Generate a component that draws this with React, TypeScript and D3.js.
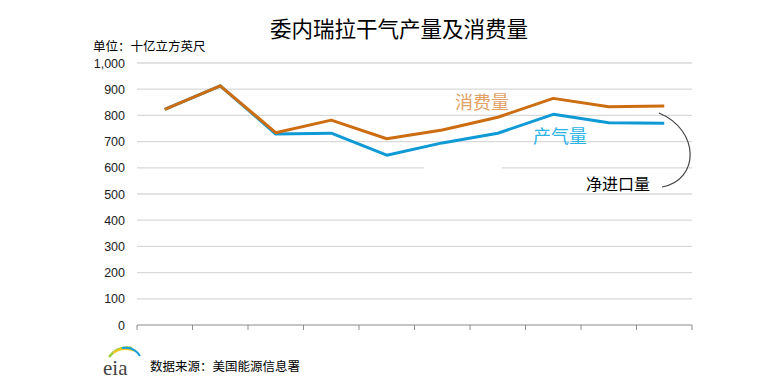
import React from "react";
import * as d3 from "d3";

const categories = ["1", "2", "3", "4", "5", "6", "7", "8", "9", "10"];
const consumption = [823, 913, 734, 782, 711, 744, 793, 865, 833, 836];
const production = [823, 913, 729, 732, 648, 695, 732, 804, 772, 770];
const yTicks = [0, 100, 200, 300, 400, 500, 600, 700, 800, 900, 1000];

const W = 775;
const H = 387;
const M = { left: 137, right: 692, top: 63, bottom: 325 };
const FONT = "'Liberation Sans', Arial, 'Noto Sans CJK SC', sans-serif";
const ORANGE = "#cc6d12";
const BLUE = "#0f9ad6";

export default function App() {
  const x = d3.scaleBand<string>().domain(categories).range([M.left, M.right]);
  const y = d3.scaleLinear().domain([0, 1000]).range([M.bottom, M.top]);
  const cx = (c: string) => (x(c) as number) + x.bandwidth() / 2;
  const line = d3
    .line<number>()
    .x((_, i) => cx(categories[i]))
    .y((d) => y(d));
  const fmt = d3.format(",");
  const tickXs = [...categories.map((c) => x(c) as number), M.right];

  return (
    <div style={{ position: "fixed", left: 0, top: 0 }}>
      <svg width={W} height={H} style={{ display: "block", background: "#fff" }} fontFamily={FONT}>
        <text x={399} y={37} textAnchor="middle" fontSize={21.5} fill="#000">
          委内瑞拉干气产量及消费量
        </text>
        <text x={93} y={51} fontSize={12.5} fill="#000">
          单位：十亿立方英尺
        </text>
        {yTicks.map((t) => (
          <g key={t}>
            {t > 0 && (
              <line x1={M.left} x2={M.right} y1={y(t)} y2={y(t)} stroke="#d9d9d9" strokeWidth={1.3} />
            )}
            <text x={125} y={y(t) + 4.5} textAnchor="end" fontSize={12.5} fill="#222">
              {fmt(t)}
            </text>
          </g>
        ))}
        <rect x={424} y={164} width={78} height={8} fill="#fff" />
        <line x1={M.left} x2={M.right} y1={y(0)} y2={y(0)} stroke="#8c8c8c" strokeWidth={1.2} />
        {tickXs.map((tx, i) => (
          <line key={i} x1={tx} x2={tx} y1={y(0)} y2={y(0) + 5} stroke="#8c8c8c" strokeWidth={1} />
        ))}
        <path d={line(production) || ""} fill="none" stroke={BLUE} strokeWidth={3} strokeLinejoin="round" />
        <path d={line(consumption) || ""} fill="none" stroke={ORANGE} strokeWidth={3} strokeLinejoin="round" />
        <text x={455} y={109} fontSize={18} fill="#e2a064">
          消费量
        </text>
        <text x={533} y={143} fontSize={18} fill="#2ab4e4">
          产气量
        </text>
        <rect x={584} y={173} width={68} height={20} fill="#fff" />
        <text x={586} y={190} fontSize={16} fill="#000">
          净进口量
        </text>
        <path
          d="M 659 113 C 700 130, 700 180, 662 187"
          fill="none"
          stroke="#444"
          strokeWidth={1.2}
        />
        {/* eia logo */}
        <g>
          <path d="M 109 357 Q 118 345 132 348" fill="none" stroke="#9ccb3b" strokeWidth={2.5} />
          <path d="M 113 353 Q 122 346 136 351" fill="none" stroke="#f3c623" strokeWidth={2} />
          <path d="M 122 348 Q 134 346 140 356" fill="none" stroke="#1aa0d8" strokeWidth={2} />
          <text x={103} y={375} fontSize={21} fontFamily="'Liberation Serif', serif" fill="#444">
            eia
          </text>
        </g>
        <text x={150} y={371} fontSize={12.5} fill="#000">
          数据来源：美国能源信息署
        </text>
      </svg>
    </div>
  );
}
